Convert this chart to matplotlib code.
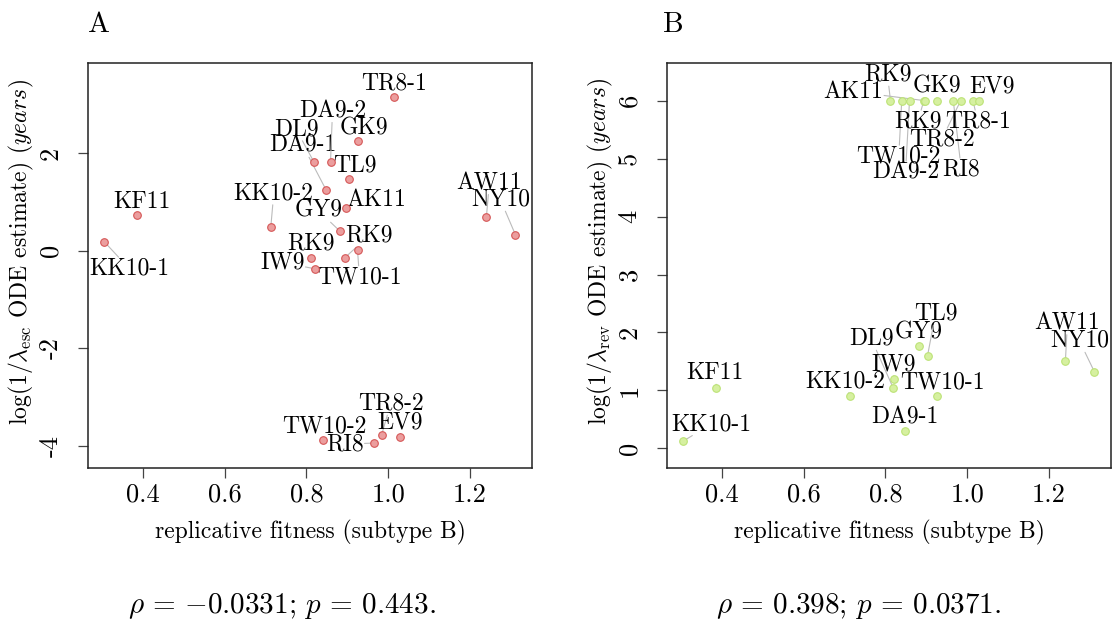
import numpy as np
import matplotlib
matplotlib.use('Agg')
import matplotlib.pyplot as plt

plt.rcParams['font.family'] = 'cmr10'
plt.rcParams['mathtext.fontset'] = 'cm'
plt.rcParams['axes.unicode_minus'] = False
plt.rcParams['axes.formatter.use_mathtext'] = True

# strains (same order in both panels)
strains = ['KK10-1', 'KF11', 'KK10-2', 'DL9', 'IW9', 'RK9', 'TW10-2', 'DA9-1',
           'DA9-2', 'GY9', 'RK9', 'AK11', 'TL9', 'GK9', 'TW10-1', 'RI8',
           'TR8-2', 'TR8-1', 'EV9', 'AW11', 'NY10']

# replicative fitness (subtype B)
fitness = [0.306, 0.387, 0.713, 0.819, 0.8205, 0.8125, 0.840, 0.848,
           0.859, 0.881, 0.894, 0.896, 0.903, 0.925, 0.925, 0.966,
           0.984, 1.014, 1.030, 1.240, 1.311]

# log(1/lambda_esc)
log_esc = [0.185, 0.739, 0.48, 1.813, -0.369, -0.144, -3.877, 1.251,
           1.82, 0.41, -0.144, 0.882, 1.477, 2.244, 0.008, -3.945,
           -3.774, 3.16, -3.822, 0.691, 0.328]

# log(1/lambda_rev)
log_rev = [0.126, 1.046, 0.901, 1.046, 1.189, 6.0, 6.0, 0.298,
           6.0, 1.762, 6.0, 6.0, 1.597, 6.0, 0.901, 6.0,
           6.0, 6.0, 6.0, 1.504, 1.321]

# label placement (pixel offset of label centre from its point, y downwards)
off_a = [(25, 25), (5, -15), (3, -36), (-18, -35), (-32, -8), (-1, -16),
         (2, -15), (-23, -46), (2, -53), (-21, -22), (24, -24), (31, -10),
         (6, -15), (6, -15), (2, 25), (-29, -1), (9, -33), (0, -15),
         (0, -17), (3, -36), (-15, -37)]
off_b = [(28, -19), (-1, -17), (-4, -17), (-22, -51), (0, -17), (-3, -28),
         (-3, 54), (0, -16), (-4, 70), (0, -16), (-6, 19), (-71, -11),
         (8, -44), (0, -16), (6, -16), (8, 67), (-19, 37), (5, 19),
         (13, -16), (2, -40), (-15, -33)]

xticks = [0.4, 0.6, 0.8, 1.0, 1.2]
xticklabels = ['0.4', '0.6', '0.8', '1.0', '1.2']

fig = plt.figure(figsize=(11.14, 6.21), dpi=100)
W, H = 1114, 621


def panel(left, yvals, offs, face, edge, ylim, yticks, ylabel):
    ax = fig.add_axes([left / W, 1 - 467.7 / H, 443.5 / W, 405 / H])
    ax.set_xlim(0.267, 1.351)
    ax.set_ylim(*ylim)
    for i, name in enumerate(strains):
        dx, dy = offs[i]
        ax.annotate(name, xy=(fitness[i], yvals[i]), xytext=(dx, -(dy + 8)),
                    textcoords='offset pixels', ha='center', va='baseline',
                    fontsize=17, zorder=3,
                    bbox=dict(boxstyle='square,pad=0.02', fc='none', ec='none'),
                    arrowprops=dict(arrowstyle='-', color='#bbbbbb', lw=0.8,
                                    shrinkA=0, shrinkB=0))
    ax.scatter(fitness, yvals, s=30, c=face, edgecolors=edge, linewidths=0.8,
               zorder=4)
    ax.set_xticks(xticks)
    ax.set_xticklabels(xticklabels)
    ax.set_yticks(yticks)
    ax.set_yticklabels([str(t) for t in yticks])
    ax.tick_params(axis='both', length=7.2, width=0.9, color='#444444',
                   labelsize=19)
    ax.tick_params(axis='x', pad=4)
    ax.tick_params(axis='y', pad=20, labelrotation=90)
    plt.setp(ax.get_yticklabels(), ha='center', va='center')
    for s in ax.spines.values():
        s.set_linewidth(1.1)
        s.set_color('#222222')
    ax.set_xlabel('replicative fitness (subtype B)', fontsize=17)
    ax.xaxis.set_label_coords(0.5, -0.161)
    ax.xaxis.label.set_va('center')
    ax.set_ylabel(ylabel, fontsize=17)
    ax.yaxis.set_label_coords(-0.15, 0.533)
    ax.yaxis.label.set_va('center')
    return ax


panel(88.3, log_esc, off_a, '#eb9e9e', '#d55656', (-4.45, 3.857),
      [-4, -2, 0, 2],
      r'log(1/$\lambda_{\rm esc}$ ODE estimate) ($years$)')
panel(667.3, log_rev, off_b, '#d6f0a0', '#bce276', (-0.333, 6.655),
      [0, 1, 2, 3, 4, 5, 6],
      r'log(1/$\lambda_{\rm rev}$ ODE estimate) ($years$)')

fig.text(99 / W, 1 - 31.7 / H, 'A', ha='center', va='baseline', fontsize=21)
fig.text(673 / W, 1 - 32 / H, 'B', ha='center', va='baseline', fontsize=21)

fig.text(282 / W, 1 - 613 / H, r'$\rho\,=\,{-}0.0331;\,p\,=\,0.443.$',
         ha='center', va='baseline', fontsize=21)
fig.text(859 / W, 1 - 613 / H, r'$\rho\,=\,0.398;\,p\,=\,0.0371.$',
         ha='center', va='baseline', fontsize=21)

fig.savefig('out.png', dpi=100)
